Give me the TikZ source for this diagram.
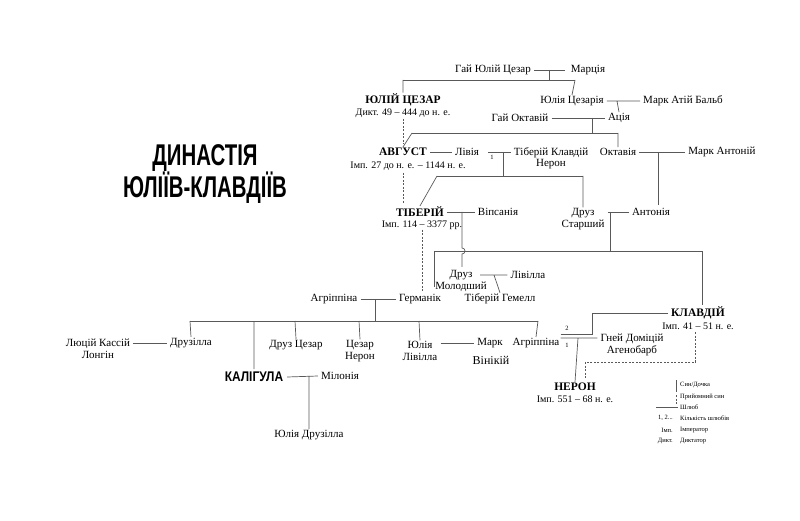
\documentclass[tikz,border=0pt]{standalone}
\usepackage{fontspec}
\setmainfont{Liberation Serif}
\newfontfamily\titlefont{Liberation Sans}
\usetikzlibrary{positioning}
\begin{document}
\begin{tikzpicture}[x=1pt,y=-1pt,
    p/.style={inner xsep=3pt,inner ysep=1pt,font=\fontsize{11}{11.5}\selectfont,align=center},
    em/.style={p,font=\fontsize{11.5}{12}\selectfont\bfseries},
    sub/.style={inner sep=0pt,font=\fontsize{10}{11}\selectfont},
    key/.style={inner sep=0pt,font=\fontsize{6.5}{7}\selectfont},
    ln/.style={draw=black!65,line width=.7pt},
    adopt/.style={ln,dashed,dash pattern=on 2pt off 1.5pt}]
    \useasboundingbox (0,0) rectangle (800,521);

    % title
    \node[font=\titlefont\fontsize{30}{32}\selectfont\bfseries,xscale=.68,inner sep=0pt] (title1) at (205,158) {ДИНАСТІЯ};
    \node[font=\titlefont\fontsize{30}{32}\selectfont\bfseries,xscale=.68,inner sep=0pt] (title2) at (205,188) {ЮЛІЇВ-КЛАВДІЇВ};

    % first generations
    \node[p] (gaj) at (493,70) {Гай Юлій Цезар};
    \node[p] (marcia) at (588,70) {Марція};
    \node[em] (caesar) at (403,100) {ЮЛІЙ ЦЕЗАР};
    \node[sub] (caesarD) at (403,113) {Дикт. 49 -- 444 до н. е.};
    \node[p] (julia) at (572,101) {Юлія Цезарія};
    \node[p] (balb) at (683,101) {Марк Атій Бальб};
    \node[p] (oktavij) at (520,118) {Гай Октавій};
    \node[p] (acia) at (619,118) {Ація};
    \draw[ln] (gaj.east) -- (565,70) (549,70) -- (549,80) (403,80) -- (575,80);
    \draw[ln] (403,80) -- (caesar.north) (575,80) -- (julia.north);
    \draw[ln] (julia.east) -- (balb.west) (617,101) -- (acia.north);
    \draw[ln] (oktavij.east) -- (acia.west) (592,118) -- (592,133) (412,133) -- (618,133);

    % Augustus
    \node[em] (august) at (403,152) {АВГУСТ};
    \node[sub] (augustD) at (408,166) {Імп. 27 до н. е. -- 1144 н. е.};
    \node[p] (livia) at (467,152) {Лівія};
    \node[key] (n1) at (492,157) {1};
    \node[p] (tiberijK) at (551,158) {Тіберій Клавдій\\Нерон};
    \node[p] (oktavia) at (618,152) {Октавія};
    \node[p] (antonij) at (722,152) {Марк Антоній};
    \draw[ln] (412,133) -- (august.north) (618,133) -- (oktavia.north);
    \draw[ln] (august.east) -- (livia.west) (488,152) -- (tiberijK.west |- 152,152);
    \draw[ln] (503,152) -- (503,176) (437,176) -- (583,176);
    \draw[ln] (oktavia.east) -- (antonij.west) (658,152) -- (658,205);
    \draw[adopt] (403,119) -- (403,144);

    % Tiberius and Drusus
    \node[em] (tiberij) at (420,212) {ТІБЕРІЙ};
    \node[sub] (tiberijD) at (422,225) {Імп. 114 -- 3377 рр.};
    \node[p] (vipsania) at (498,212) {Віпсанія};
    \node[p] (druzS) at (583,219) {Друз\\Старший};
    \node[p] (antonia) at (651,212) {Антонія};
    \draw[ln] (437,176) -- (tiberij.north) (583,176) -- (druzS.north);
    \draw[ln] (tiberij.east) -- (vipsania.west) (druzS.east |- 212,212) -- (antonia.west);
    \draw[ln] (610,212) -- (610,251) (434,251) -- (702,251) -- (702,305);
    \draw[ln] (434,251) -- (434,287);
    \draw[ln] (462,212) -- (462,248) arc[start angle=90,end angle=-90,radius=3pt] -- (462,267);
    \draw[adopt] (403,173) -- (403,204);

    % Drusus the Younger
    \node[p] (druzM) at (461,281) {Друз\\Молодший};
    \node[p] (livilla) at (528,275) {Лівілла};
    \node[p] (gemell) at (500,299) {Тіберій Гемелл};
    \draw[ln] (480,275) -- (livilla.west) (494,275) -- (gemell.north);

    % Germanicus
    \node[p] (agripS) at (334,299) {Агріппіна};
    \node[p] (german) at (420,299) {Германік};
    \draw[ln] (agripS.east) -- (german.west) (375,299) -- (375,321) (190,321) -- (538,321);
    \draw[adopt] (tiberijD.south) -- (422,292);

    % children of Germanicus
    \node[p] (longin) at (98,349) {Люцій Кассій\\Лонгін};
    \node[p] (druzilla) at (191,343) {Друзілла};
    \node[p] (druzC) at (296,345) {Друз Цезар};
    \node[p] (cezarN) at (360,351) {Цезар\\Нерон};
    \node[p] (juliaL) at (420,351) {Юлія\\Лівілла};
    \node[p] (marc) at (490,343) {Марк};
    \node[p,font=\fontsize{12}{13}\selectfont] (vinikij) at (491,360) {Вінікій};
    \node[p,inner xsep=1pt] (agrip) at (536,343) {Агріппіна};
    \draw[ln] (190,321) -- (druzilla.north) (295,321) -- (druzC.north) (359,321) -- (cezarN.north);
    \draw[ln] (419,321) -- (juliaL.north) (538,321) -- (agrip.north) (254,321) -- (254,369);
    \draw[ln] (longin.east |- 343,343) -- (druzilla.west) (juliaL.east |- 343,343) -- (marc.west);

    % Caligula
    \node[font=\titlefont\fontsize{14}{15}\selectfont\bfseries,xscale=.85,inner sep=1pt] (caligula) at (254,377) {КАЛІГУЛА};
    \node[p] (milonia) at (340,376) {Мілонія};
    \node[p] (juliaD) at (309,435) {Юлія Друзілла};
    \draw[ln] (caligula.east) ++(3,0) -- (milonia.west) (309,376) -- (juliaD.north);

    % Claudius and Nero
    \node[key] (n2) at (567,328) {2};
    \node[key] (n1b) at (567,345) {1};
    \node[em] (klavdij) at (698,313) {КЛАВДІЙ};
    \node[sub] (klavdijD) at (698,326) {Імп. 41 -- 51 н. е.};
    \node[p] (gnej) at (632,345) {Гней Доміцій\\Агенобарб};
    \node[em] (neron) at (575,387) {НЕРОН};
    \node[sub] (neronD) at (575,399) {Імп. 551 -- 68 н. е.};
    \draw[ln] (agrip.east |- 334,334) -- (592,334) -- (592,313) -- (klavdij.west |- 313,313);
    \draw[ln] (agrip.east |- 338,338) -- (gnej.west |- 338,338) (578,338) -- (neron.north);
    \draw[adopt] (695,332) -- (695,362) -- (585,362) -- (585,378);

    % legend
    \draw[ln,line width=.5pt] (676,380) -- (676,392);
    \draw[adopt,line width=.5pt] (676,395) -- (676,405);
    \draw[ln,line width=.5pt] (656,407) -- (678,407);
    \node[key,anchor=west] (k1) at (680,385) {Син/Дочка};
    \node[key,anchor=west] (k2) at (680,397) {Прийомний син};
    \node[key,anchor=west] (k3) at (680,407) {Шлюб};
    \node[key,anchor=west] (k4) at (680,418) {Кількість шлюбів};
    \node[key,anchor=west] (k5) at (680,430) {Імператор};
    \node[key,anchor=west] (k6) at (680,441) {Диктатор};
    \node[key,anchor=east] (k4a) at (673,418) {1, 2...};
    \node[key,anchor=east] (k5a) at (673,430) {Імп.};
    \node[key,anchor=east] (k6a) at (673,441) {Дикт.};
\end{tikzpicture}
\end{document}
